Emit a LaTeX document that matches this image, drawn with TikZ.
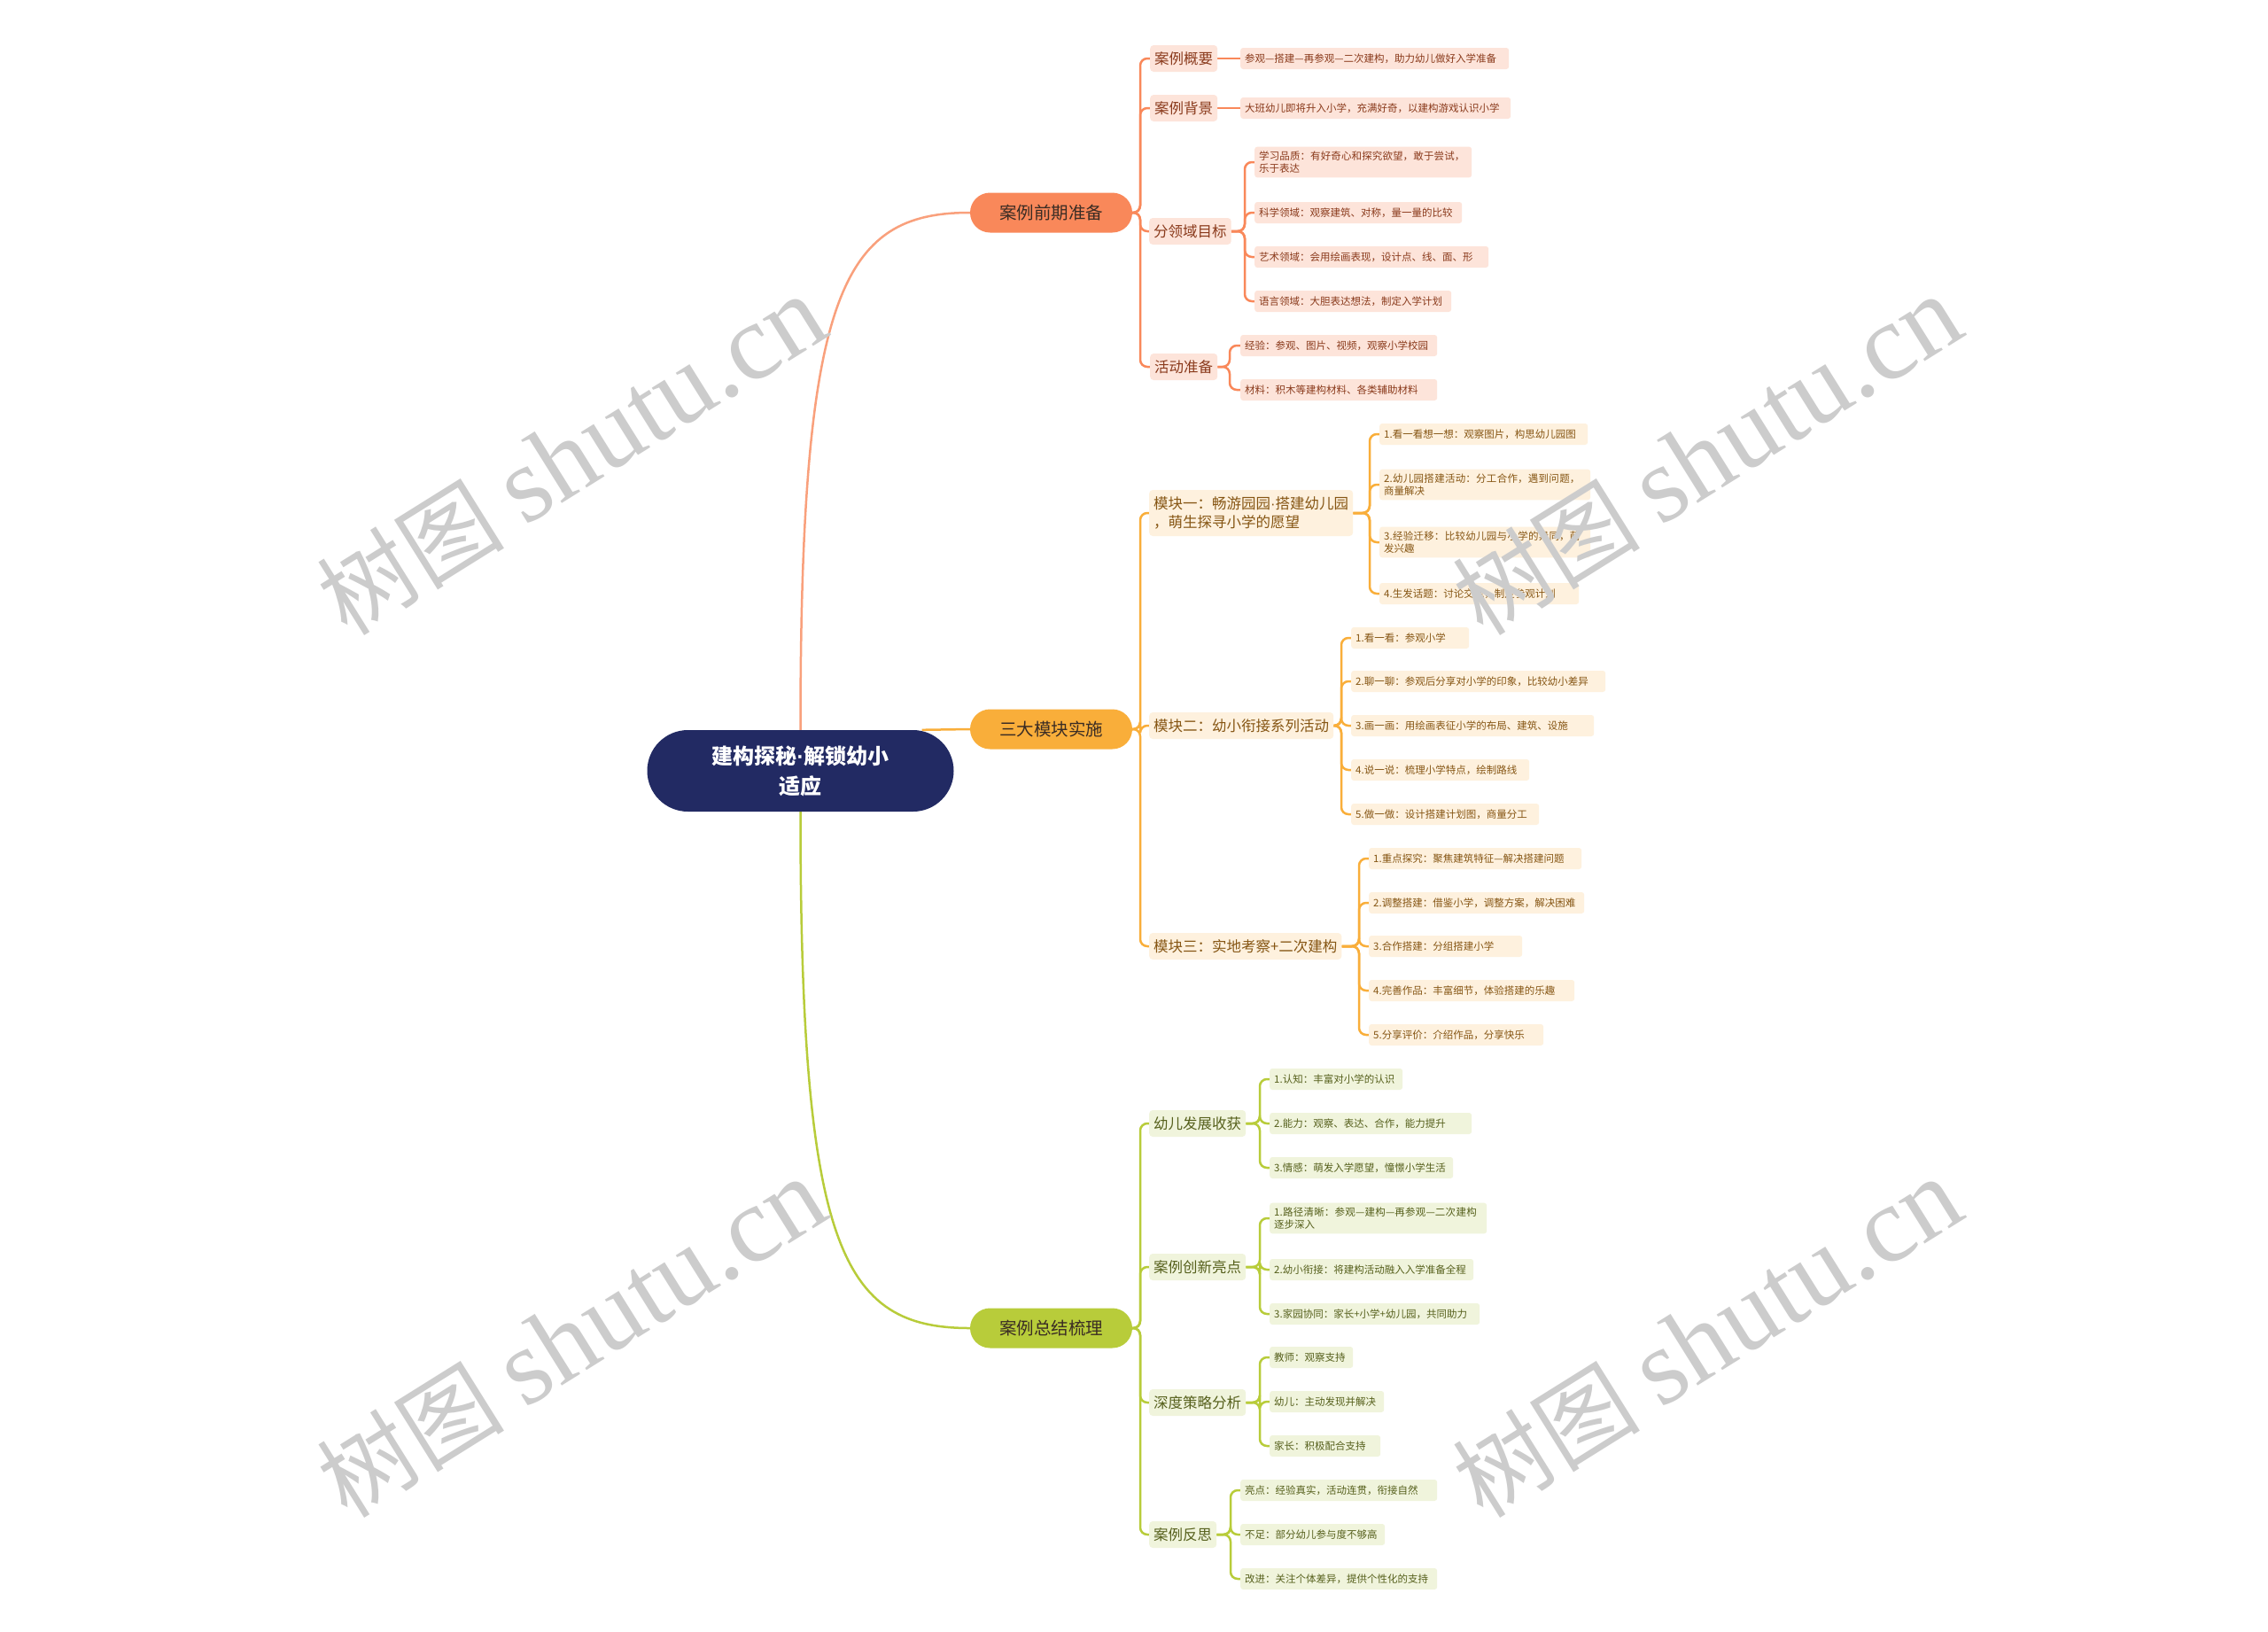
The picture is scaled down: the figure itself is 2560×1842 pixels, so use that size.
\documentclass[tikz,border=0pt]{standalone}
\usepackage{fontspec}
\newfontfamily\cjk{Noto Sans CJK SC}
\newfontfamily\wmlat{Liberation Serif}
\newfontfamily\latsans{Liberation Sans}
\XeTeXlinebreaklocale "zh"
\XeTeXlinebreakskip=0pt plus 1pt
\pgfdeclarelayer{bg}
\pgfsetlayers{bg,main}
\definecolor{rootc}{HTML}{222A63}
\definecolor{ca}{HTML}{F9885A}
\definecolor{cal}{HTML}{F9A07C}
\definecolor{cb}{HTML}{F9AE3A}
\definecolor{cc}{HTML}{B8CC3A}
\definecolor{fa}{HTML}{FDE4DA}
\definecolor{fb}{HTML}{FEF1DE}
\definecolor{fc}{HTML}{F0F4DC}
\definecolor{ta}{HTML}{8A3A1C}
\definecolor{tb}{HTML}{865614}
\definecolor{tc}{HTML}{56601C}
\definecolor{mtext}{HTML}{3A2C24}
\definecolor{wmc}{HTML}{CCCCCC}
\newcommand{\ndot}{{\latsans ·}}
\tikzset{
 rootnode/.style={fill=rootc, rounded corners=46pt, minimum width=346pt, minimum height=92pt, inner sep=0pt, text=white, align=center, font=\cjk\bfseries\fontsize{24pt}{34pt}\selectfont},
 mainnode/.style={rounded corners=22.5pt, minimum width=183pt, minimum height=45pt, inner sep=0pt, text=mtext, font=\cjk\fontsize{19.5pt}{24pt}\selectfont},
 subnode/.style={anchor=west, rounded corners=4pt, inner xsep=5pt, inner ysep=5pt, minimum height=30pt, align=left, font=\cjk\fontsize{16.5pt}{21pt}\selectfont},
 leafnode/.style={anchor=west, rounded corners=3pt, inner xsep=5pt, inner ysep=5pt, minimum height=24pt, align=left, font=\cjk\fontsize{11.5pt}{14pt}\selectfont},
 sa/.style={subnode, fill=fa, text=ta},
 sb/.style={subnode, fill=fb, text=tb},
 sc/.style={subnode, fill=fc, text=tc},
 la/.style={leafnode, fill=fa, text=ta},
 lb/.style={leafnode, fill=fb, text=tb},
 lc/.style={leafnode, fill=fc, text=tc},
 linka/.style={draw=ca, line width=2.5pt, rounded corners=8pt},
 linkb/.style={draw=cb, line width=2.5pt, rounded corners=8pt},
 linkc/.style={draw=cc, line width=2.5pt, rounded corners=8pt},
 wmark/.style={text=wmc, rotate=32, inner sep=0pt},
}
\begin{document}
\begin{tikzpicture}[x=1pt,y=-1pt]
\begin{pgfonlayer}{bg}
\fill[white] (0,0) rectangle (2560,1842);
\end{pgfonlayer}
\useasboundingbox (0,0) rectangle (2560,1842);

% root and main nodes
\node[rootnode] (root) at (903.5,870) {建构探秘\ndot 解锁幼小\\适应};
\node[mainnode, fill=ca] (n1) at (1186.5,240) {案例前期准备};
\node[mainnode, fill=cb] (n2) at (1186.5,823) {三大模块实施};
\node[mainnode, fill=cc] (n3) at (1186.5,1499) {案例总结梳理};

% branch 1
\node[sa] (s11) at (1298,66) {案例概要};
\node[la, text width=293pt] (l11) at (1400,66) {参观—搭建—再参观—二次建构，助力幼儿做好入学准备};
\node[sa] (s12) at (1298,122) {案例背景};
\node[la, text width=295pt] (l12) at (1400,122) {大班幼儿即将升入小学，充满好奇，以建构游戏认识小学};
\node[sa] (s13) at (1297,261) {分领域目标};
\node[la, text width=235pt] (l131) at (1416,183) {学习品质：有好奇心和探究欲望，敢于尝试，乐于表达};
\node[la, text width=224pt] (l132) at (1416,240) {科学领域：观察建筑、对称，量一量的比较};
\node[la, text width=254pt] (l133) at (1416,290) {艺术领域：会用绘画表现，设计点、线、面、形};
\node[la, text width=212pt] (l134) at (1416,340) {语言领域：大胆表达想法，制定入学计划};
\node[sa] (s14) at (1298,414) {活动准备};
\node[la, text width=212pt] (l141) at (1400,390) {经验：参观、图片、视频，观察小学校园};
\node[la, text width=212pt] (l142) at (1400,440) {材料：积木等建构材料、各类辅助材料};

% branch 2
\node[sb, minimum height=52pt] (s21) at (1297,579) {模块一：畅游园园\ndot 搭建幼儿园\\，萌生探寻小学的愿望};
\node[lb, text width=225pt] (l211) at (1557,490) {1.看一看想一想：观察图片，构思幼儿园图};
\node[lb, text width=228pt] (l212) at (1557,547) {2.幼儿园搭建活动：分工合作，遇到问题，商量解决};
\node[lb, text width=228pt] (l213) at (1557,612) {3.经验迁移：比较幼儿园与小学的异同，萌发兴趣};
\node[lb, text width=215pt] (l214) at (1557,670) {4.生发话题：讨论交流，制定参观计划};
\node[sb] (s22) at (1297,819) {模块二：幼小衔接系列活动};
\node[lb, text width=123pt] (l221) at (1525,720) {1.看一看：参观小学};
\node[lb, text width=277pt] (l222) at (1525,769) {2.聊一聊：参观后分享对小学的印象，比较幼小差异};
\node[lb, text width=264pt] (l223) at (1525,819) {3.画一画：用绘画表征小学的布局、建筑、设施};
\node[lb, text width=191pt] (l224) at (1525,869) {4.说一说：梳理小学特点，绘制路线};
\node[lb, text width=202pt] (l225) at (1525,919) {5.做一做：设计搭建计划图，商量分工};
\node[sb] (s23) at (1297,1068) {模块三：实地考察+二次建构};
\node[lb, text width=230pt] (l231) at (1545,969) {1.重点探究：聚焦建筑特征—解决搭建问题};
\node[lb, text width=233pt] (l232) at (1545,1019) {2.调整搭建：借鉴小学，调整方案，解决困难};
\node[lb, text width=163pt] (l233) at (1545,1068) {3.合作搭建：分组搭建小学};
\node[lb, text width=222pt] (l234) at (1545,1118) {4.完善作品：丰富细节，体验搭建的乐趣};
\node[lb, text width=187pt] (l235) at (1545,1168) {5.分享评价：介绍作品，分享快乐};

% branch 3
\node[sc] (s31) at (1297,1268) {幼儿发展收获};
\node[lc, text width=140pt] (l311) at (1433,1218) {1.认知：丰富对小学的认识};
\node[lc, text width=218pt] (l312) at (1433,1268) {2.能力：观察、表达、合作，能力提升};
\node[lc, text width=197pt] (l313) at (1433,1318) {3.情感：萌发入学愿望，憧憬小学生活};
\node[sc] (s32) at (1297,1430) {案例创新亮点};
\node[lc, text width=235pt] (l321) at (1433,1375) {1.路径清晰：参观—建构—再参观—二次建构逐步深入};
\node[lc, text width=220pt] (l322) at (1433,1433) {2.幼小衔接：将建构活动融入入学准备全程};
\node[lc, text width=227pt] (l323) at (1433,1483) {3.家园协同：家长+小学+幼儿园，共同助力};
\node[sc] (s33) at (1297,1583) {深度策略分析};
\node[lc, text width=84pt] (l331) at (1433,1532) {教师：观察支持};
\node[lc, text width=119pt] (l332) at (1433,1582) {幼儿：主动发现并解决};
\node[lc, text width=115pt] (l333) at (1433,1632) {家长：积极配合支持};
\node[sc] (s34) at (1297,1732) {案例反思};
\node[lc, text width=212pt] (l341) at (1400,1682) {亮点：经验真实，活动连贯，衔接自然};
\node[lc, text width=153pt] (l342) at (1400,1732) {不足：部分幼儿参与度不够高};
\node[lc, text width=212pt] (l343) at (1400,1782) {改进：关注个体差异，提供个性化的支持};

% junctions
\coordinate (j1) at (1287,240);
\coordinate (j2) at (1287,823);
\coordinate (j3) at (1287,1499);
\coordinate (j13) at (1405,261);
\coordinate (j14) at (1388,414);
\coordinate (j21) at (1546,579);
\coordinate (j22) at (1514,819);
\coordinate (j23) at (1534,1068);
\coordinate (j31) at (1422,1268);
\coordinate (j32) at (1422,1430);
\coordinate (j33) at (1422,1583);
\coordinate (j34) at (1389,1732);
\coordinate (r2) at ([xshift=-36pt]root.north east);

\begin{pgfonlayer}{bg}
% root links
\draw[draw=cal, line width=2.5pt] (root.north) .. controls (903.5,330) and (950,240) .. (n1.west);
\draw[draw=cb, line width=2.5pt] (r2) -- (n2.west);
\draw[draw=cc, line width=2.5pt] (root.south) .. controls (903.5,1410) and (950,1499) .. (n3.west);
% branch 1
\foreach \s in {s11,s12,s13,s14} \draw[linka] (n1.east) -- (j1) |- (\s.west);
\draw[linka] (s11.east) -- (l11.west);
\draw[linka] (s12.east) -- (l12.west);
\foreach \l in {l131,l132,l133,l134} \draw[linka] (s13.east) -- (j13) |- (\l.west);
\foreach \l in {l141,l142} \draw[linka] (s14.east) -- (j14) |- (\l.west);
% branch 2
\foreach \s in {s21,s22,s23} \draw[linkb] (n2.east) -- (j2) |- (\s.west);
\foreach \l in {l211,l212,l213,l214} \draw[linkb] (s21.east) -- (j21) |- (\l.west);
\foreach \l in {l221,l222,l223,l224,l225} \draw[linkb] (s22.east) -- (j22) |- (\l.west);
\foreach \l in {l231,l232,l233,l234,l235} \draw[linkb] (s23.east) -- (j23) |- (\l.west);
% branch 3
\foreach \s in {s31,s32,s33,s34} \draw[linkc] (n3.east) -- (j3) |- (\s.west);
\foreach \l in {l311,l312,l313} \draw[linkc] (s31.east) -- (j31) |- (\l.west);
\foreach \l in {l321,l322,l323} \draw[linkc] (s32.east) -- (j32) |- (\l.west);
\foreach \l in {l331,l332,l333} \draw[linkc] (s33.east) -- (j33) |- (\l.west);
\foreach \l in {l341,l342,l343} \draw[linkc] (s34.east) -- (j34) |- (\l.west);
\end{pgfonlayer}

% watermarks
\node[wmark] (w1) at (645,514) {\cjk\fontsize{106pt}{106pt}\selectfont 树图 \wmlat\fontsize{122pt}{122pt}\selectfont shutu.cn};
\node[wmark] (w2) at (1927,514) {\cjk\fontsize{106pt}{106pt}\selectfont 树图 \wmlat\fontsize{122pt}{122pt}\selectfont shutu.cn};
\node[wmark] (w3) at (645,1510) {\cjk\fontsize{106pt}{106pt}\selectfont 树图 \wmlat\fontsize{122pt}{122pt}\selectfont shutu.cn};
\node[wmark] (w4) at (1927,1510) {\cjk\fontsize{106pt}{106pt}\selectfont 树图 \wmlat\fontsize{122pt}{122pt}\selectfont shutu.cn};
\end{tikzpicture}
\end{document}
